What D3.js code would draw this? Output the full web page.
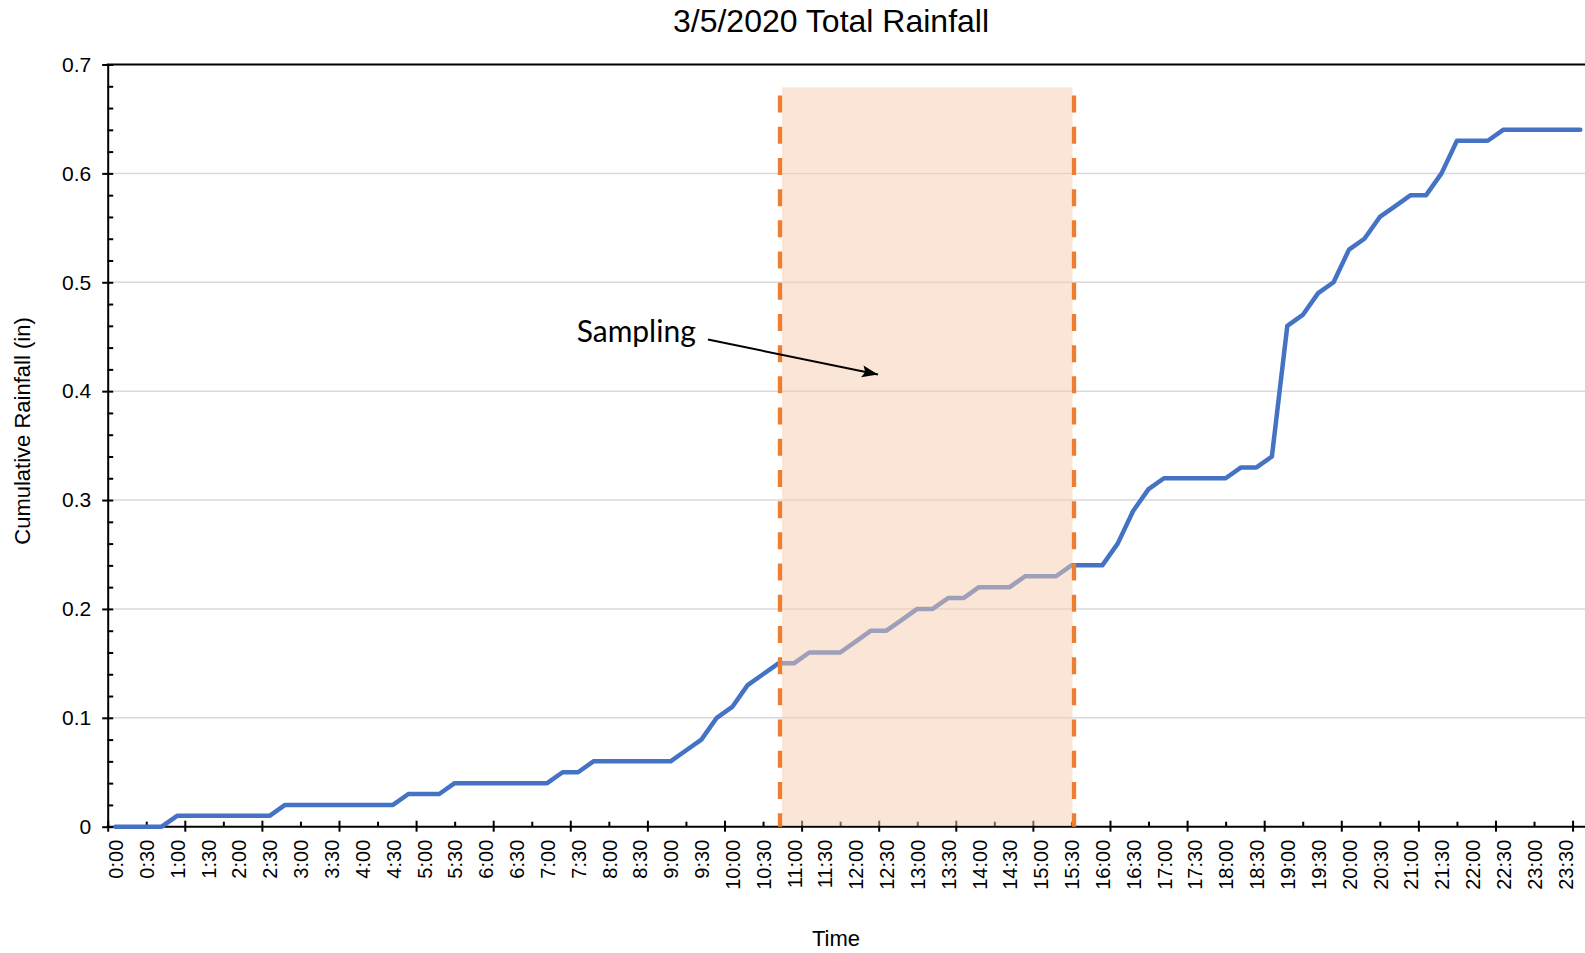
<!DOCTYPE html>
<html><head><meta charset="utf-8">
<script src="https://cdn.jsdelivr.net/npm/d3@7"></script>
<style>
html,body{margin:0;padding:0;background:#fff;}
svg{display:block;}
text{font-family:"Liberation Sans",Arial,sans-serif;fill:#000;}
</style></head><body>
<svg id="chart" width="1585" height="953"></svg>
<script>
// ---- data ----
const times = ["0:00","0:15","0:30","0:45","1:00","1:15","1:30","1:45","2:00","2:15","2:30","2:45",
"3:00","3:15","3:30","3:45","4:00","4:15","4:30","4:45","5:00","5:15","5:30","5:45",
"6:00","6:15","6:30","6:45","7:00","7:15","7:30","7:45","8:00","8:15","8:30","8:45",
"9:00","9:15","9:30","9:45","10:00","10:15","10:30","10:45","11:00","11:15","11:30","11:45",
"12:00","12:15","12:30","12:45","13:00","13:15","13:30","13:45","14:00","14:15","14:30","14:45",
"15:00","15:15","15:30","15:45","16:00","16:15","16:30","16:45","17:00","17:15","17:30","17:45",
"18:00","18:15","18:30","18:45","19:00","19:15","19:30","19:45","20:00","20:15","20:30","20:45",
"21:00","21:15","21:30","21:45","22:00","22:15","22:30","22:45","23:00","23:15","23:30","23:45"];
const rainfall = [0,0,0,0,0.01,0.01,0.01,0.01,0.01,0.01,0.01,0.02,
0.02,0.02,0.02,0.02,0.02,0.02,0.02,0.03,0.03,0.03,0.04,0.04,
0.04,0.04,0.04,0.04,0.04,0.05,0.05,0.06,0.06,0.06,0.06,0.06,
0.06,0.07,0.08,0.10,0.11,0.13,0.14,0.15,0.15,0.16,0.16,0.16,
0.17,0.18,0.18,0.19,0.20,0.20,0.21,0.21,0.22,0.22,0.22,0.23,
0.23,0.23,0.24,0.24,0.24,0.26,0.29,0.31,0.32,0.32,0.32,0.32,
0.32,0.33,0.33,0.34,0.46,0.47,0.49,0.50,0.53,0.54,0.56,0.57,
0.58,0.58,0.60,0.63,0.63,0.63,0.64,0.64,0.64,0.64,0.64,0.64];
const xTickLabels = ["0:00","0:30","1:00","1:30","2:00","2:30","3:00","3:30","4:00","4:30","5:00","5:30",
"6:00","6:30","7:00","7:30","8:00","8:30","9:00","9:30","10:00","10:30","11:00","11:30",
"12:00","12:30","13:00","13:30","14:00","14:30","15:00","15:30","16:00","16:30","17:00","17:30",
"18:00","18:30","19:00","19:30","20:00","20:30","21:00","21:30","22:00","22:30","23:00","23:30"];
const yTickValues = [0,0.1,0.2,0.3,0.4,0.5,0.6,0.7];
const yTickLabels = ["0","0.1","0.2","0.3","0.4","0.5","0.6","0.7"];
const samplingWindow = ["10:46:30","15:32:30"];
const titleText = "3/5/2020 Total Rainfall";
const xTitle = "Time";
const yTitle = "Cumulative Rainfall (in)";
const annotationText = "Sampling";

// ---- helpers ----
function toMin(s){const p=s.split(":").map(Number);return p[0]*60+p[1]+(p[2]||0)/60;}
const data = times.map((t,i)=>({t:toMin(t),v:rainfall[i]}));

const svg = d3.select("#chart");
svg.append("rect").attr("width",1585).attr("height",953).attr("fill","#fff");

const x = d3.scaleLinear().domain([-7.5,1432.5]).range([107.7,1588]);
const y = d3.scaleLinear().domain([0,0.7]).range([826.7,64.5]);

// gridlines
svg.append("g").selectAll("line").data(yTickValues.filter(v=>v>0&&v<0.7)).join("line")
  .attr("x1",x(-7.5)).attr("x2",1585).attr("y1",d=>y(d)).attr("y2",d=>y(d))
  .attr("stroke","#D9D9D9").attr("stroke-width",1.5);
// top border
svg.append("line").attr("x1",x(-7.5)-1).attr("x2",1585).attr("y1",y(0.7)).attr("y2",y(0.7))
  .attr("stroke","#000").attr("stroke-width",2);

// x axis ticks (every 37.5 min, major every other)
const xTicks = d3.range(-7.5,1432.5,37.5);
const xMajor = xTicks.filter((d,i)=>i%2===0);
const xMinor = xTicks.filter((d,i)=>i%2===1);
const gxMaj = svg.append("g").attr("transform",`translate(0,${y(0)})`)
  .call(d3.axisBottom(x).tickValues(xMajor).tickFormat("").tickSizeOuter(0).tickSizeInner(5));
gxMaj.select(".domain").remove();
gxMaj.selectAll(".tick line").attr("y1",-6).attr("y2",5).attr("stroke","#000").attr("stroke-width",2);
const gxMin = svg.append("g").attr("transform",`translate(0,${y(0)})`)
  .call(d3.axisBottom(x).tickValues(xMinor).tickFormat("").tickSizeOuter(0).tickSizeInner(5));
gxMin.select(".domain").remove();
gxMin.selectAll(".tick line").attr("y1",-5).attr("y2",0).attr("stroke","#000").attr("stroke-width",2);

// x labels
const gxl = svg.append("g").attr("transform",`translate(0,${y(0)})`)
  .call(d3.axisBottom(x).tickValues(xTickLabels.map(toMin)).tickFormat((d,i)=>xTickLabels[i]).tickSize(0));
gxl.select(".domain").remove();
gxl.selectAll(".tick text").attr("transform","rotate(-90)").attr("text-anchor","end")
  .attr("x",-13).attr("y",0).attr("dy","0.36em")
  .style("font-size","20px").style("font-family","'Liberation Sans',Arial,sans-serif").attr("fill","#000");

// y axis
const gy = svg.append("g").attr("transform",`translate(${x(-7.5)},0)`)
  .call(d3.axisLeft(y).tickValues(yTickValues).tickFormat((d,i)=>yTickLabels[i]).tickSizeOuter(0).tickSizeInner(5.5).tickPadding(11));
gy.select(".domain").attr("stroke","#000").attr("stroke-width",2);
gy.selectAll(".tick line").attr("x1",5.5).attr("x2",-5.5).attr("stroke","#000").attr("stroke-width",2);
gy.selectAll(".tick text").style("font-size","21px").style("font-family","'Liberation Sans',Arial,sans-serif").attr("fill","#000");
const yMinor = d3.range(1,35).map(i=>i*0.02).filter(v=>Math.abs(v*10-Math.round(v*10))>1e-6);
svg.append("g").attr("transform",`translate(${x(-7.5)},0)`)
  .call(d3.axisRight(y).tickValues(yMinor).tickFormat("").tickSizeOuter(0).tickSizeInner(5.5))
  .call(g=>g.select(".domain").remove())
  .selectAll(".tick line").attr("stroke","#000").attr("stroke-width",2);

// x axis line
svg.append("line").attr("x1",x(-7.5)-1).attr("x2",1585).attr("y1",y(0)).attr("y2",y(0))
  .attr("stroke","#000").attr("stroke-width",2);

// series line
svg.append("path").datum(data)
  .attr("d",d3.line().x(d=>x(d.t)).y(d=>y(d.v)))
  .attr("fill","none").attr("stroke","#4472C4").attr("stroke-width",4.5)
  .attr("stroke-linejoin","round").attr("stroke-linecap","round");

// sampling window
const s0 = toMin(samplingWindow[0]), s1 = toMin(samplingWindow[1]);
svg.append("rect").attr("x",x(s0)+2).attr("width",x(s1)-x(s0)-3.5)
  .attr("y",y(0.679)).attr("height",y(0)-1-y(0.679))
  .attr("fill","#F8CBAD").attr("fill-opacity",0.5);
svg.append("g").selectAll("line").data([s0,s1]).join("line")
  .attr("x1",d=>x(d)).attr("x2",d=>x(d)).attr("y1",y(0.6715)).attr("y2",y(0))
  .attr("stroke","#ED7D31").attr("stroke-width",4.3).attr("stroke-dasharray","17 14.2");

// annotation arrow
const defs = svg.append("defs");
defs.append("marker").attr("id","arrow").attr("markerUnits","userSpaceOnUse")
  .attr("markerWidth",18).attr("markerHeight",14).attr("refX",16).attr("refY",6)
  .attr("orient","auto")
  .append("path").attr("d","M0,0 L16,6 L0,12 L3,6 Z").attr("fill","#000");
svg.append("line").attr("x1",x(576.4)).attr("y1",y(0.4474)).attr("x2",x(741.8)).attr("y2",y(0.4153))
  .attr("stroke","#000").attr("stroke-width",2).attr("marker-end","url(#arrow)");
svg.append("text").attr("x",x(448.7)).attr("y",y(0.4447))
  .style("font-family","Lato,'Open Sans',sans-serif").style("font-size","30px").text(annotationText);

// titles
svg.append("text").attr("x",831).attr("y",32).attr("text-anchor","middle")
  .style("font-size","32px").text(titleText);
svg.append("text").attr("x",836).attr("y",938).attr("text-anchor","middle").attr("dominant-baseline","central")
  .style("font-size","22px").text(xTitle);
svg.append("text").attr("transform","translate(22,431) rotate(-90)").attr("text-anchor","middle").attr("dominant-baseline","central")
  .style("font-size","22px").text(yTitle);
</script>
</body></html>
